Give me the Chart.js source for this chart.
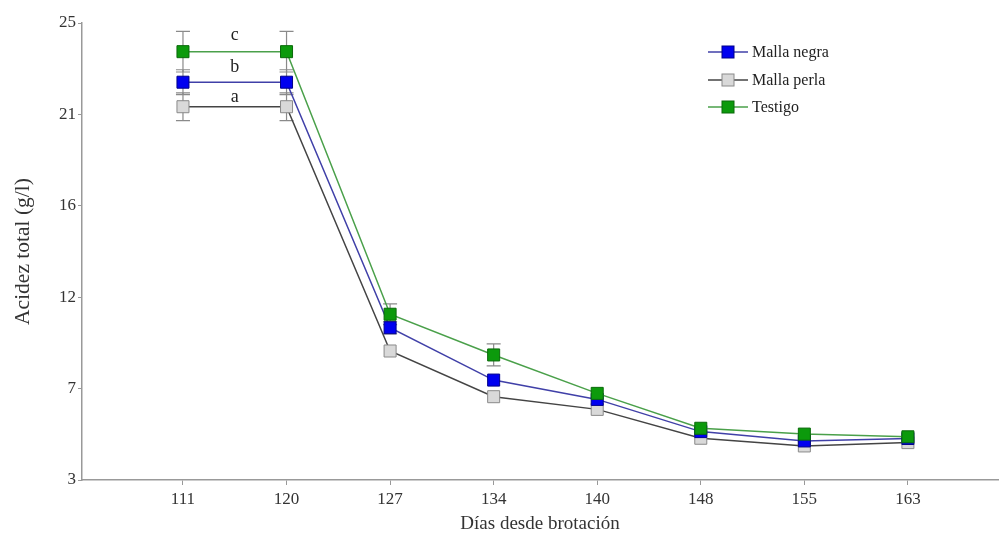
<!DOCTYPE html>
<html>
<head>
<meta charset="utf-8">
<script src="https://cdn.jsdelivr.net/npm/chart.js@4"></script>
<style>
  html, body { margin: 0; padding: 0; background: #fff; overflow: hidden; }
  canvas { display: block; }
</style>
</head>
<body>
<canvas id="lineChart" width="1000" height="541"></canvas>
<script>
// days since budbreak
const dias = ['111', '120', '127', '134', '140', '148', '155', '163'];

const mallaNegra = [22.15, 22.15, 10.33, 7.81, 6.88, 5.33, 4.88, 5.0];
const mallaPerla = [20.97, 20.97, 9.21, 7.01, 6.4, 5.01, 4.64, 4.8];
const testigo = [23.62, 23.62, 10.98, 9.02, 7.17, 5.49, 5.21, 5.08];

// standard errors (0 = not drawn)
const errNegra = [0.6, 0.6, 0.3, 0, 0, 0, 0, 0];
const errPerla = [0.67, 0.67, 0, 0, 0, 0, 0, 0];
const errTestigo = [0.98, 0.98, 0.5, 0.53, 0, 0, 0, 0];

const yTicks = [3, 7.4, 11.8, 16.2, 20.6, 25];
const yTickLabels = ['3', '7', '12', '16', '21', '25'];

// significance letters between the first two dates
const letras = ['c', 'b', 'a'];
const letrasY = [24.42, 22.88, 21.44];

const serie = (vals) => vals.map((v, i) => ({ x: i, y: v }));

function makeDataset(label, vals, errs, lineColor, fill, border, order) {
    return {
        label: label,
        data: serie(vals),
        errors: errs,
        order: order,
        borderColor: lineColor,
        borderWidth: 1.5,
        pointStyle: 'rect',
        pointRadius: 8.5,
        pointBackgroundColor: fill,
        pointBorderColor: border,
        pointBorderWidth: 1,
        tension: 0
    };
}

const errorBars = {
    id: 'errorBars',
    beforeDatasetsDraw(chart) {
        const ctx = chart.ctx;
        const y = chart.scales.y;
        ctx.save();
        ctx.strokeStyle = '#8a8a8a';
        ctx.lineWidth = 1.2;
        chart.data.datasets.forEach((ds, di) => {
            const meta = chart.getDatasetMeta(di);
            meta.data.forEach((pt, i) => {
                const e = ds.errors[i];
                if (!e) return;
                const top = y.getPixelForValue(ds.data[i].y + e);
                const bot = y.getPixelForValue(ds.data[i].y - e);
                ctx.beginPath();
                ctx.moveTo(pt.x, top); ctx.lineTo(pt.x, bot);
                ctx.moveTo(pt.x - 7, top); ctx.lineTo(pt.x + 7, top);
                ctx.moveTo(pt.x - 7, bot); ctx.lineTo(pt.x + 7, bot);
                ctx.stroke();
            });
        });
        ctx.restore();
    }
};

const extras = {
    id: 'extras',
    afterDraw(chart) {
        const ctx = chart.ctx;
        const xs = chart.scales.x, ys = chart.scales.y;
        ctx.save();
        ctx.fillStyle = '#222';
        ctx.font = '18px "Liberation Serif"';
        ctx.textAlign = 'center';
        ctx.textBaseline = 'middle';
        letras.forEach((l, i) => {
            ctx.fillText(l, xs.getPixelForValue(0.5), ys.getPixelForValue(letrasY[i]));
        });

        // legend: line with marker in the middle
        ctx.font = '16px "Liberation Serif"';
        ctx.textAlign = 'left';
        const lx = 708, rowY = [52, 80, 107];
        chart.data.datasets.forEach((ds, i) => {
            const yy = rowY[i];
            ctx.strokeStyle = ds.borderColor;
            ctx.lineWidth = 1.5;
            ctx.beginPath();
            ctx.moveTo(lx, yy); ctx.lineTo(lx + 40, yy);
            ctx.stroke();
            ctx.fillStyle = ds.pointBackgroundColor;
            ctx.strokeStyle = ds.pointBorderColor;
            ctx.lineWidth = 1;
            ctx.fillRect(lx + 14, yy - 6, 12, 12);
            ctx.strokeRect(lx + 14, yy - 6, 12, 12);
            ctx.fillStyle = '#222';
            ctx.fillText(ds.label, lx + 44, yy + 1);
        });
        ctx.restore();
    }
};

const ctx = document.getElementById('lineChart').getContext('2d');
new Chart(ctx, {
    type: 'line',
    data: {
        datasets: [
            makeDataset('Malla negra', mallaNegra, errNegra, '#4040a8', '#0000f0', '#00008a', 1),
            makeDataset('Malla perla', mallaPerla, errPerla, '#444444', '#d9d9d9', '#8a8a8a', 2),
            makeDataset('Testigo', testigo, errTestigo, '#4aa04a', '#0c9a0c', '#0a6a0a', 0)
        ]
    },
    options: {
        responsive: false,
        animation: false,
        layout: { autoPadding: false, padding: { top: 23, right: 2, left: 0, bottom: 0 } },
        plugins: {
            legend: { display: false },
            tooltip: { enabled: false }
        },
        scales: {
            x: {
                type: 'linear',
                min: -0.975,
                max: 7.87,
                afterBuildTicks: (s) => { s.ticks = dias.map((d, i) => ({ value: i })); },
                afterFit: (s) => { s.height = 61; s.paddingLeft = 0; s.paddingRight = 0; },
                ticks: {
                    autoSkip: false,
                    maxRotation: 0,
                    padding: 4,
                    color: '#333',
                    font: { family: 'Liberation Serif', size: 17 },
                    callback: (v) => dias[v]
                },
                grid: { drawOnChartArea: false, drawTicks: true, tickLength: 5, color: '#999' },
                border: { color: '#999', width: 1.5 },
                title: {
                    display: true,
                    text: 'Días desde brotación',
                    color: '#333',
                    font: { family: 'Liberation Serif', size: 19 },
                    padding: { top: 0, bottom: 6 }
                }
            },
            y: {
                min: 3,
                max: 25,
                afterBuildTicks: (s) => { s.ticks = yTicks.map(v => ({ value: v })); },
                afterFit: (s) => { s.width = 82; s.paddingTop = 0; s.paddingBottom = 0; },
                ticks: {
                    padding: 2,
                    color: '#333',
                    font: { family: 'Liberation Serif', size: 17 },
                    callback: (v, i) => yTickLabels[i]
                },
                grid: { drawOnChartArea: false, drawTicks: true, tickLength: 4, color: '#999' },
                border: { color: '#999', width: 1.5 },
                title: {
                    display: true,
                    text: 'Acidez total (g/l)',
                    color: '#333',
                    font: { family: 'Liberation Serif', size: 21.5 },
                    padding: { top: 10, bottom: 0 }
                }
            }
        }
    },
    plugins: [errorBars, extras]
});
</script>
</body>
</html>
